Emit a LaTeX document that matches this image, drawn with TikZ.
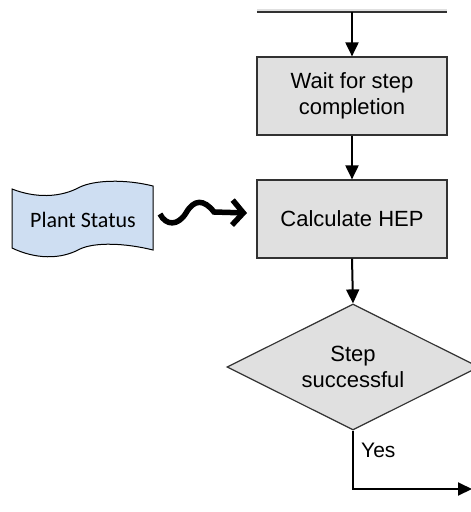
\documentclass[tikz,border=0pt]{standalone}
\usepackage{fontspec}
\setmainfont{Liberation Sans}
\newfontfamily\calibrifont{Carlito}
\usetikzlibrary{shapes.geometric,arrows.meta}
\definecolor{boxfill}{RGB}{224,224,224}
\definecolor{boxline}{RGB}{50,50,50}
\definecolor{tapefill}{RGB}{206,222,242}
\tikzset{
  procbox/.style={draw=boxline,line width=1.2pt,fill=boxfill,minimum width=190pt,minimum height=78pt,inner sep=0pt,align=center,font=\fontsize{22}{26.5}\selectfont},
  topstub/.style={fill=boxfill,minimum width=190pt,minimum height=3pt,inner sep=0pt},
  edge/.style={draw=boxline,line width=1.6pt},
  decbox/.style={draw=boxline,line width=1.2pt,fill=boxfill,diamond,aspect=2,minimum width=252pt,minimum height=126pt,inner sep=0pt,align=center,font=\fontsize{22}{26.5}\selectfont},
  flow/.style={line width=2pt,-{Triangle[width=13pt,length=14pt]}},
  squig/.style={line width=5.5pt,-{Straight Barb[length=11pt,width=25pt,line width=5.5pt]}},
  tape/.style={draw=black,line width=1pt,fill=tapefill}
}
\begin{document}
\begin{tikzpicture}[x=1pt,y=-1pt]
\useasboundingbox (0,0) rectangle (471,512);
\clip (0,0) rectangle (471,512);
% nodes
\node[topstub] (top) at (352,10.5) {};
\draw[edge] (top.south west) -- (top.south east);
\node[procbox] (wait) at (352,96) {Wait for step\\completion};
\node[procbox] (calc) at (352,219) {Calculate HEP};
\node[decbox] (dec) at (353,367) {Step\\successful};
% tape
\draw[tape] (12,189) .. controls (35,198) and (60,198) .. (80,187)
  .. controls (95,180) and (125,179) .. (153,186) -- (153,250)
  .. controls (125,243) and (95,242) .. (80,249)
  .. controls (60,260) and (35,259) .. (12,248) -- cycle;
\node[font=\calibrifont\fontsize{22}{26}\selectfont,inner sep=0pt] (ps) at (83,220) {Plant Status};
\coordinate (ps-out) at (160,214);
\coordinate (calc-in) at (247,213);
\coordinate (endpt) at (472,489);
% connectors
\draw[flow] (top.south) -- (wait.north);
\draw[flow] (wait.south) -- (calc.north);
\draw[flow] (calc.south) -- (dec.north);
\draw[flow] (dec.south) |- (endpt);
\node[anchor=west,inner sep=0pt,font=\fontsize{21}{25}\selectfont] (yes) at (361,450) {Yes};
\draw[squig] (ps-out) .. controls (166,226) and (178,226) .. (186,213)
  .. controls (194,199) and (204,199) .. (214,212) -- (calc-in);
\end{tikzpicture}
\end{document}
